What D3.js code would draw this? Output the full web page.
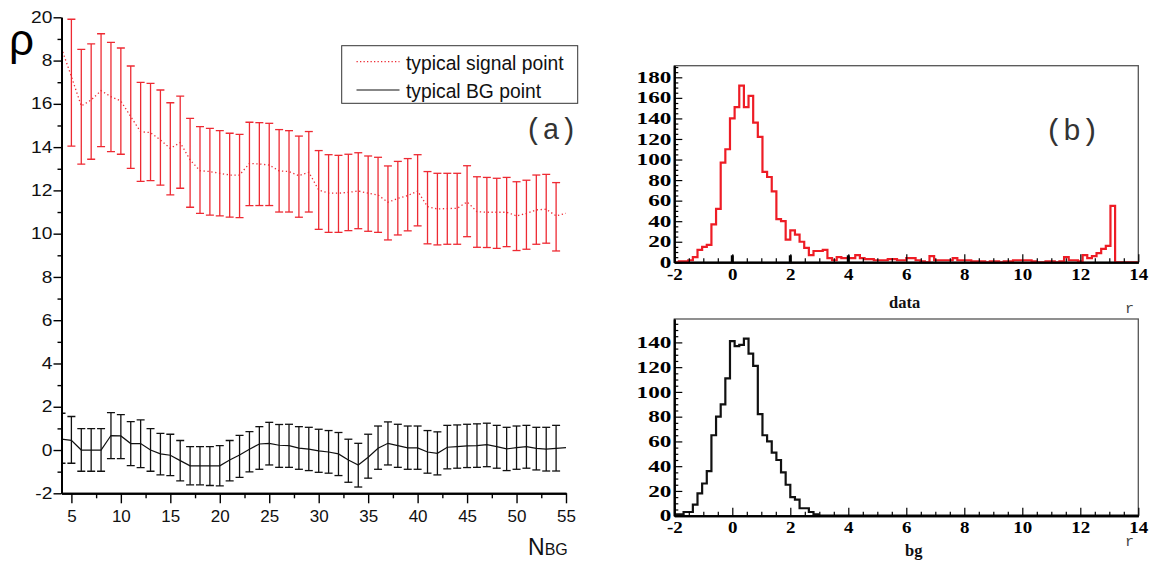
<!DOCTYPE html>
<html><head><meta charset="utf-8">
<script src="https://cdn.jsdelivr.net/npm/d3@7"></script>
<style>body{margin:0;background:#fff}svg{display:block}</style>
</head><body><svg id="c" width="1158" height="568"></svg>
<script>
// ---------------- data : panel (a) ----------------
const nbg = [4,5,6,7,8,9,10,11,12,13,14,15,16,17,18,19,20,21,22,23,24,25,26,27,28,29,30,31,32,33,34,35,36,37,38,39,40,41,42,43,44,45,46,47,48,49,50,51,52,53,54,55];
const sigMean = [18.57,17.26,15.90,16.18,16.61,16.33,16.13,15.41,14.71,14.67,14.33,13.94,14.21,13.41,12.91,12.87,12.79,12.71,12.71,13.25,13.22,13.17,12.90,12.87,12.68,12.84,12.02,11.87,11.87,11.91,11.97,11.87,11.79,11.45,11.63,11.76,11.97,11.25,11.14,11.16,11.17,11.47,11.02,10.99,10.99,10.99,10.82,10.94,11.10,11.13,10.82,10.94];
const sigHi = [null,19.91,18.52,18.77,19.24,18.84,18.58,17.75,16.99,16.95,16.64,16.05,16.36,15.33,14.95,14.87,14.76,14.64,14.59,15.15,15.13,15.10,14.81,14.76,14.51,14.72,13.84,13.65,13.62,13.67,13.74,13.59,13.53,13.13,13.34,13.47,13.65,12.87,12.79,12.79,12.79,13.14,12.63,12.60,12.56,12.60,12.40,12.47,12.71,12.74,12.36,null];
const sigLo = [null,14.05,13.21,13.44,14.02,13.79,13.67,13.02,12.42,12.45,12.24,11.79,12.10,11.22,10.94,10.86,10.82,10.76,10.74,11.30,11.30,11.30,11.00,11.00,10.76,11.00,10.20,10.06,10.06,10.14,10.23,10.11,10.06,9.71,9.94,10.13,10.36,9.53,9.48,9.51,9.51,9.86,9.37,9.36,9.32,9.40,9.22,9.28,9.51,9.56,9.20,null];
const bgMean = [0.50,0.45,0,0,0,0.67,0.65,0.30,0.30,0,-0.18,-0.24,-0.49,-0.73,-0.73,-0.73,-0.73,-0.46,-0.23,0.04,0.28,0.31,0.22,0.20,0.09,0.04,-0.04,-0.09,-0.18,-0.46,-0.69,-0.33,0.08,0.31,0.20,0.10,0.10,-0.09,-0.15,0.13,0.16,0.19,0.20,0.25,0.16,0.05,0.11,0.16,0.08,0.04,0.08,0.11];
const bgHi = [1.70,1.55,0.99,0.99,0.99,1.73,1.64,1.31,1.39,0.99,0.77,0.73,0.44,0.16,0.16,0.16,0.20,0.44,0.68,0.85,1.08,1.28,1.18,1.19,1.08,1.05,0.96,0.90,0.81,0.50,0.31,0.73,1.11,1.30,1.19,1.11,1.11,0.90,0.84,1.14,1.16,1.19,1.21,1.24,1.14,1.05,1.11,1.14,1.05,1.05,1.14,null];
const bgLo = [-0.61,-0.61,-0.98,-0.98,-0.98,-0.40,-0.40,-0.72,-0.81,-0.98,-1.15,-1.18,-1.43,-1.61,-1.61,-1.64,-1.66,-1.43,-1.26,-1.01,-0.89,-0.69,-0.80,-0.80,-0.89,-0.95,-1.03,-1.07,-1.18,-1.49,-1.71,-1.30,-0.89,-0.69,-0.80,-0.89,-0.89,-1.07,-1.15,-0.87,-0.84,-0.81,-0.80,-0.77,-0.84,-0.95,-0.89,-0.84,-0.92,-0.97,-0.97,null];
const yTickValues = [20,18,16,14,12,10,8,6,4,2,0,-2];
const yTickLabels = ["20","8","16","14","12","10","8","6","4","2","0","-2"];
const yMinorTicks = [19,17,15,13,11,9,7,5,3,1,-1];
const xTickValues = [5,10,15,20,25,30,35,40,45,50,55];
const xMinorTicks = [7.5,12.5,17.5,22.5,27.5,32.5,37.5,42.5,47.5,52.5];
const legendLabels = ["typical signal point","typical BG point"];

// ---------------- data : panel (b) ----------------
const histStart = -2, histBinWidth = 0.16;
const dataCounts = [0,1,1,2,5,12,15,17,37,52,97,110,140,151,172,151,162,136,122,88,83,69,42,40,22,31,27,20,14,7,11,11,12,4,2,5,4,4,4,7,4,3,3,2,2,2,3,3,2,2,4,4,2,1,0,6,2,2,2,2,4,2,2,2,1,1,1,0,1,1,0,1,1,2,2,2,2,1,0,0,1,1,0,1,5,2,2,1,7,4,6,9,13,16,55,0,0,0,0,0];
const bgCounts = [1,1,3,3,9,18,26,36,65,80,90,111,141,137,138,143,131,121,82,65,60,51,45,35,25,15,13,6,6,3,1,0,0,0,0,0,0,0,0,0,0,0,0,0,0,0,0,0,0,0,0,0,0,0,0,0,0,0,0,0,0,0,0,0,0,0,0,0,0,0,0,0,0,0,0,0,0,0,0,0,0,0,0,0,0,0,0,0,0,0,0,0,0,0,0,0,0,0,0,0];
const histXTicks = [-2,0,2,4,6,8,10,12,14];
const histXLabels = ["-2","0","2","4","6","8","10","12","14"];
const histXMinorTicks = [-1.5,-1,-0.5,0.5,1,1.5,2.5,3,3.5,4.5,5,5.5,6.5,7,7.5,8.5,9,9.5,10.5,11,11.5,12.5,13,13.5];
const thickTicks = [0,2,4];
const dataYTicks = [0,20,40,60,80,100,120,140,160,180];
const dataYMinor = [5,10,15,25,30,35,45,50,55,65,70,75,85,90,95,105,110,115,125,130,135,145,150,155,165,170,175,185,190];
const bgYTicks = [0,20,40,60,80,100,120,140];
const bgYMinor = [5,10,15,25,30,35,45,50,55,65,70,75,85,90,95,105,110,115,125,130,135,145,150,155];

// ---------------- drawing ----------------
const svg = d3.select("#c");
svg.append("rect").attr("width",1158).attr("height",568).attr("fill","#fff");
const RED = "#ee2a33";
const SANS = "'Liberation Sans', Arial, sans-serif";
const SERIF = "'Liberation Serif', 'Times New Roman', serif";
const MONO = "'Liberation Mono', 'Courier New', monospace";

// ----- panel (a)
const xL = d3.scaleLinear().domain([4,55]).range([61.5,566]);
const yL = d3.scaleLinear().domain([-2,20]).range([493.3,17.3]);
svg.append("clipPath").attr("id","clipL").append("rect")
  .attr("x",61.5).attr("y",0).attr("width",566-61.5).attr("height",500);
const plotA = svg.append("g").attr("clip-path","url(#clipL)");

function errBars(g, lo, hi, color){
  const pts = nbg.map((x,i)=>({x, lo:lo[i], hi:hi[i]})).filter(d=>d.hi!=null);
  const gg = g.append("g").attr("stroke",color).attr("stroke-width",1.3).attr("fill","none");
  gg.selectAll("line.v").data(pts).join("line")
    .attr("x1",d=>xL(d.x)).attr("x2",d=>xL(d.x)).attr("y1",d=>yL(d.lo)).attr("y2",d=>yL(d.hi));
  gg.selectAll("line.t").data(pts).join("line")
    .attr("x1",d=>xL(d.x)-4).attr("x2",d=>xL(d.x)+4).attr("y1",d=>yL(d.hi)).attr("y2",d=>yL(d.hi));
  gg.selectAll("line.b").data(pts).join("line")
    .attr("x1",d=>xL(d.x)-4).attr("x2",d=>xL(d.x)+4).attr("y1",d=>yL(d.lo)).attr("y2",d=>yL(d.lo));
}
errBars(plotA, sigLo, sigHi, RED);
errBars(plotA, bgLo, bgHi, "#111");

const lineGen = d3.line().x((d,i)=>xL(nbg[i])).y(d=>yL(d));
plotA.append("path").attr("d",lineGen(sigMean)).attr("fill","none")
  .attr("stroke",RED).attr("stroke-width",1.3).attr("stroke-dasharray","1.3,2.6");
plotA.append("path").attr("d",lineGen(bgMean)).attr("fill","none")
  .attr("stroke","#111").attr("stroke-width",1.2);

// axes (a)
function styleAxisA(g, fs){
  g.select(".domain").attr("stroke","#000").attr("stroke-width",2);
  g.selectAll(".tick line").attr("stroke","#000").attr("stroke-width",1.4);
  g.selectAll("text").attr("font-family",SANS).attr("font-size",fs).attr("fill","#111");
}
const gyMinor = svg.append("g").attr("transform","translate(61.5,0)")
  .call(d3.axisLeft(yL).tickValues(yMinorTicks).tickSize(4).tickSizeOuter(0).tickFormat(""));
styleAxisA(gyMinor,16);
const gy = svg.append("g").attr("transform","translate(61.5,0)")
  .call(d3.axisLeft(yL).tickValues(yTickValues).tickFormat((d,i)=>yTickLabels[i]).tickSize(8).tickSizeOuter(0).tickPadding(1));
styleAxisA(gy,16);
gy.selectAll("text").attr("transform","translate(-8,0) scale(1.2,1) translate(8,0)");
const gxMinor = svg.append("g").attr("transform","translate(0,493.3)")
  .call(d3.axisBottom(xL).tickValues(xMinorTicks).tickSize(5).tickSizeOuter(0).tickFormat(""));
styleAxisA(gxMinor,16);
const gx = svg.append("g").attr("transform","translate(0,493.3)")
  .call(d3.axisBottom(xL).tickValues(xTickValues).tickSize(10).tickSizeOuter(0).tickPadding(7));
styleAxisA(gx,17);

svg.append("text").attr("x",9).attr("y",55).attr("font-family",SANS)
  .attr("font-size",44).attr("fill","#000").text("ρ");
const nt = svg.append("text").attr("x",528).attr("y",555).attr("font-family",SANS).attr("fill","#111");
nt.append("tspan").attr("font-size",23).text("N");
nt.append("tspan").attr("font-size",16).text("BG");

// legend
const lg = svg.append("g");
lg.append("rect").attr("x",341.7).attr("y",45.7).attr("width",236).attr("height",57.6)
  .attr("fill","#fff").attr("stroke","#333").attr("stroke-width",1);
lg.append("line").attr("x1",356.5).attr("x2",399.5).attr("y1",61.7).attr("y2",61.7)
  .attr("stroke",RED).attr("stroke-width",1.2).attr("stroke-dasharray","1.3,2.2");
lg.append("line").attr("x1",356.5).attr("x2",399.5).attr("y1",90).attr("y2",90)
  .attr("stroke","#111").attr("stroke-width",1.2);
lg.selectAll("text.l").data(legendLabels).join("text")
  .attr("x",406).attr("y",(d,i)=>i===0?69.5:97.5)
  .attr("font-family",SANS).attr("font-size",19.3).attr("fill","#111")
  .text(d=>d);
svg.append("text").attr("x",525).attr("y",139).attr("font-family",MONO)
  .attr("font-size",29).attr("fill","#333").text("(a)");

// ----- panel (b)
const xH = d3.scaleLinear().domain([-2,14]).range([674.3,1138.3]);

function drawHist(counts, yS, yTicks, yMinor, color, title, titleX, titleY, rY, id, thick){
  const [yb, yt] = yS.range();
  svg.append("clipPath").attr("id",id).append("rect")
    .attr("x",674.3).attr("y",yt).attr("width",1138.3-674.3).attr("height",yb-yt);
  svg.append("rect").attr("x",674.3).attr("y",yt).attr("width",1138.3-674.3).attr("height",yb-yt)
    .attr("fill","none").attr("stroke","#555").attr("stroke-width",1.3);
  const pts = [[histStart,0]];
  counts.forEach((c,k)=>pts.push([histStart+k*histBinWidth, c]));
  pts.push([histStart+counts.length*histBinWidth, 0]);
  const stepLine = d3.line().curve(d3.curveStepAfter).x(d=>xH(d[0])).y(d=>yS(d[1]));
  svg.append("path").attr("clip-path",`url(#${id})`).attr("d",stepLine(pts))
    .attr("fill","none").attr("stroke",color).attr("stroke-width",2.2).attr("stroke-linejoin","miter");

  const styleB = (g,fs)=>{
    g.select(".domain").attr("stroke","#000").attr("stroke-width",2);
    g.selectAll(".tick line").attr("stroke","#000").attr("stroke-width",1.2);
    g.selectAll("text").attr("font-family",SERIF).attr("font-weight","bold").attr("font-size",fs).attr("fill","#000");
  };
  const gym = svg.append("g").attr("transform","translate(674.3,0)")
    .call(d3.axisLeft(yS).tickValues(yMinor).tickSize(-4).tickSizeOuter(0).tickFormat(""));
  styleB(gym,16);
  const gyM = svg.append("g").attr("transform","translate(674.3,0)")
    .call(d3.axisLeft(yS).tickValues(yTicks).tickFormat(d=>String(d)).tickSize(-8).tickSizeOuter(0).tickPadding(3));
  styleB(gyM,16);
  gyM.selectAll("text").attr("transform","translate(-3,0) scale(1.45,1) translate(3,0)");
  const gxm = svg.append("g").attr("transform",`translate(0,${yb})`)
    .call(d3.axisBottom(xH).tickValues(histXMinorTicks).tickSize(-4).tickSizeOuter(0).tickFormat(""));
  styleB(gxm,16);
  const gxM = svg.append("g").attr("transform",`translate(0,${yb})`)
    .call(d3.axisBottom(xH).tickValues(histXTicks).tickFormat((d,i)=>histXLabels[i]).tickSize(-8).tickSizeOuter(0).tickPadding(6));
  styleB(gxM,16.5);
  gxM.selectAll("text").attr("transform","scale(1.15,1)");
  if(thick){
    svg.append("g").selectAll("line").data(thick).join("line")
      .attr("x1",d=>xH(d)).attr("x2",d=>xH(d)).attr("y1",yb-7).attr("y2",yb)
      .attr("stroke","#000").attr("stroke-width",3);
  }
  svg.append("text").attr("x",titleX).attr("y",titleY).attr("font-family",SERIF).attr("font-weight","bold")
    .attr("font-size",16.5).attr("fill","#111").text(title);
  svg.append("text").attr("x",1125).attr("y",rY).attr("font-family",MONO)
    .attr("font-size",15).attr("fill","#444").text("r");
}
const yTop = d3.scaleLinear().domain([0,191.3]).range([262.3,65.7]);
const yBot = d3.scaleLinear().domain([0,158.9]).range([515.7,319]);
drawHist(dataCounts, yTop, dataYTicks, dataYMinor, "#ee1c25", "data", 889, 308, 313, "clipT", thickTicks);
drawHist(bgCounts, yBot, bgYTicks, bgYMinor, "#111", "bg", 905, 556, 546, "clipB", null);
svg.append("text").attr("x",1045).attr("y",140).attr("font-family",MONO)
  .attr("font-size",30).attr("fill","#333").text("(b)");
</script></body></html>
